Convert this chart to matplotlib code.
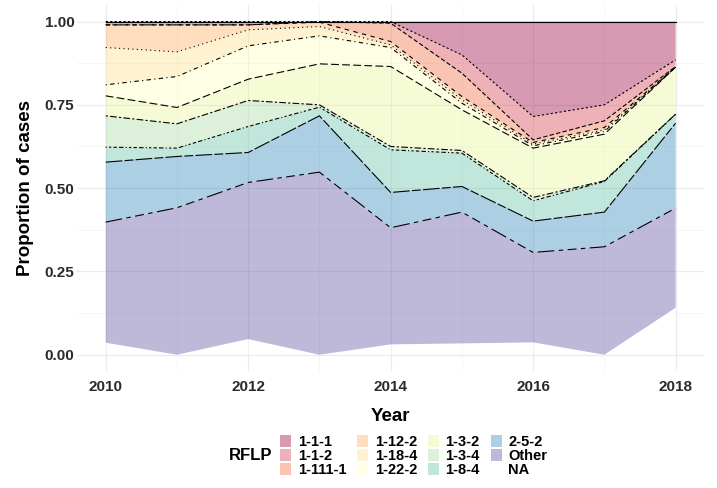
import numpy as np
import matplotlib
matplotlib.use("Agg")
import matplotlib.pyplot as plt
from matplotlib.patches import Patch

plt.rcParams['font.family'] = ['Liberation Sans', 'DejaVu Sans']
plt.rcParams['font.weight'] = 'bold'

years = [2010, 2011, 2012, 2013, 2014, 2015, 2016, 2017, 2018]

# proportion of cases per RFLP type, stacked bottom -> top
groups = ["NA", "Other", "2-5-2", "1-8-4", "1-3-4", "1-3-2",
          "1-22-2", "1-18-4", "1-12-2", "1-111-1", "1-1-2", "1-1-1"]
p_na     = [0.036, 0.000, 0.047, 0.000, 0.031, 0.034, 0.037, 0.000, 0.141]
p_other  = [0.362, 0.441, 0.470, 0.548, 0.350, 0.394, 0.270, 0.324, 0.299]
p_252    = [0.180, 0.154, 0.090, 0.169, 0.106, 0.077, 0.094, 0.104, 0.255]
p_184    = [0.045, 0.025, 0.078, 0.026, 0.128, 0.100, 0.061, 0.092, 0.027]
p_134    = [0.094, 0.073, 0.078, 0.007, 0.010, 0.008, 0.010, 0.002, 0.000]
p_132    = [0.060, 0.049, 0.064, 0.123, 0.240, 0.122, 0.148, 0.140, 0.141]
p_1222   = [0.033, 0.093, 0.100, 0.084, 0.057, 0.020, 0.007, 0.008, 0.000]
p_1184   = [0.112, 0.074, 0.048, 0.028, 0.008, 0.010, 0.005, 0.005, 0.000]
p_1122   = [0.068, 0.081, 0.015, 0.013, 0.010, 0.010, 0.005, 0.007, 0.000]
p_11111  = [0.000, 0.000, 0.000, 0.002, 0.055, 0.070, 0.008, 0.020, 0.002]
p_112    = [0.010, 0.010, 0.010, 0.000, 0.005, 0.055, 0.070, 0.048, 0.020]
p_111    = [0.000, 0.000, 0.000, 0.000, 0.000, 0.100, 0.285, 0.250, 0.115]

legend_order = ["1-1-1", "1-1-2", "1-111-1", "1-12-2", "1-18-4", "1-22-2",
                "1-3-2", "1-3-4", "1-8-4", "2-5-2", "Other", "NA"]
spectral = ["#9e0142", "#d53e4f", "#f46d43", "#fdae61", "#fee08b", "#ffffbf",
            "#e6f598", "#abdda4", "#66c2a5", "#3288bd", "#5e4fa2"]
fill = dict(zip(legend_order[:-1], spectral))
fill["NA"] = "none"
# ggplot default linetypes, in legend order
ltypes = [None, (2, 2), (4, 2), (4, 4), (1, 3), (1, 3, 4, 3), (7, 3),
          (2, 2, 6, 2), (1, 2, 2, 2, 3, 2, 4, 2), (15, 2, 8, 2),
          (15, 4, 4, 4, 8, 4, 4, 4), None]
ltype = dict(zip(legend_order, ltypes))

values = np.array([p_na, p_other, p_252, p_184, p_134, p_132, p_1222,
                   p_1184, p_1122, p_11111, p_112, p_111])
values = values / values.sum(axis=0)
tops = np.cumsum(values, axis=0)

fig = plt.figure(figsize=(7.17, 4.88), dpi=100)
ax = fig.add_axes([0.1077, 0.239, 0.8743, 0.751])

ax.stackplot(years, values,
             colors=[fill[g] if g != "NA" else "white" for g in groups],
             alpha=0.4, linewidth=0)

for i, g in enumerate(groups):
    if g == "NA":
        continue
    line, = ax.plot(years, tops[i], color="black", linewidth=0.8)
    if ltype[g] is not None:
        line.set_dashes(ltype[g])

ax.set_xlim(2009.6, 2018.4)
ax.set_ylim(-0.05, 1.05)
ax.set_xticks([2010, 2012, 2014, 2016, 2018])
ax.set_xticks([2011, 2013, 2015, 2017], minor=True)
ax.set_yticks([0, 0.25, 0.5, 0.75, 1.0])
ax.set_yticks([0.125, 0.375, 0.625, 0.875], minor=True)
ax.set_yticklabels(["0.00", "0.25", "0.50", "0.75", "1.00"])
ax.grid(which="major", color="#ebebeb", linewidth=0.9)
ax.grid(which="minor", color="#f2f2f2", linewidth=0.5)
ax.set_axisbelow(True)
for s in ax.spines.values():
    s.set_visible(False)
ax.tick_params(which="both", length=0, labelsize=11, labelcolor="#2b2b2b")
ax.tick_params(axis="y", pad=2)
ax.tick_params(axis="x", pad=6)

ax.set_xlabel("Year", fontsize=13.5, fontweight="bold", labelpad=10)
ax.set_ylabel("Proportion of cases", fontsize=13.5, fontweight="bold", labelpad=8)

handles = [Patch(facecolor=fill[g], alpha=0.4 if g != "NA" else 1,
                 edgecolor="none") for g in legend_order]
fig.legend(handles, legend_order, ncol=4, loc="center left",
           bbox_to_anchor=(0.391, 0.066), frameon=False, fontsize=10.5,
           handlelength=0.75, handleheight=0.85, handletextpad=0.45,
           labelspacing=0.0, columnspacing=0.75, borderpad=0,
           borderaxespad=0)
fig.text(0.319, 0.066, "RFLP", fontsize=12, fontweight="bold",
         ha="left", va="center")

fig.savefig("out.png", dpi=100, facecolor="white")
